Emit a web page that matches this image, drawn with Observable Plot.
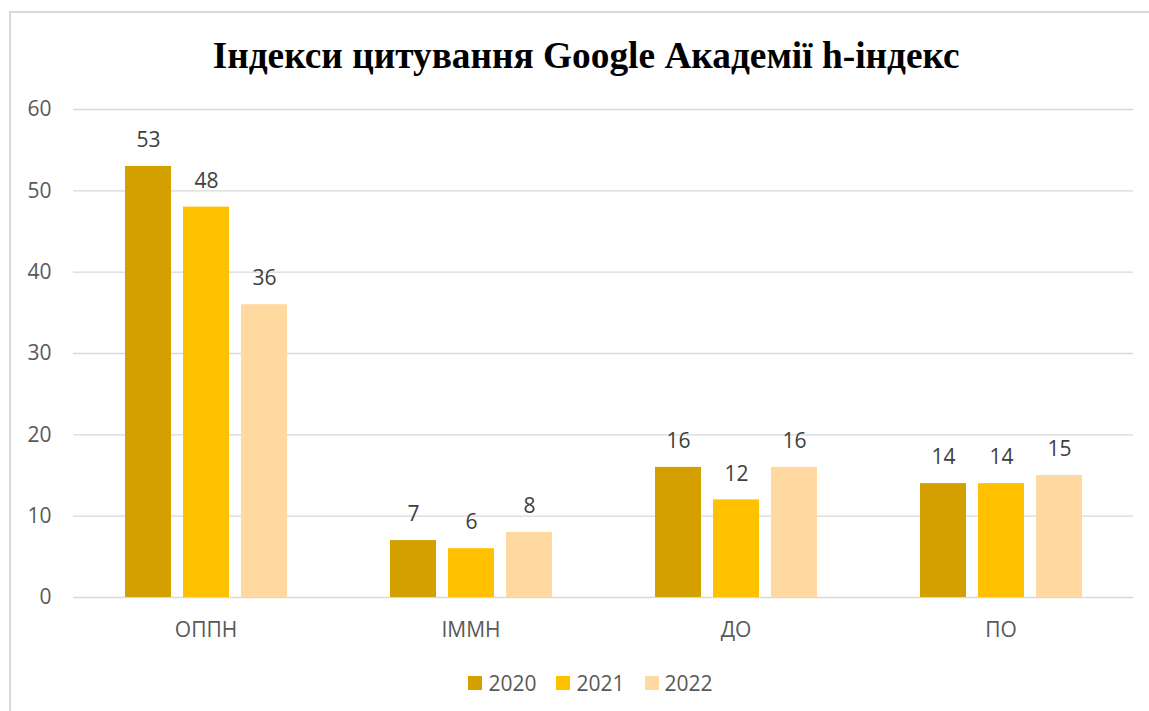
<!DOCTYPE html>
<html>
<head>
<meta charset="utf-8">
<script src="https://cdn.jsdelivr.net/npm/d3@7"></script>
<script src="https://cdn.jsdelivr.net/npm/@observablehq/plot@0.6"></script>
<style>
  html, body { margin: 0; padding: 0; background: #fff; width: 1149px; height: 711px; overflow: hidden; position: relative; }
  #frame { position: absolute; left: 9px; top: 11px; width: 1300px; height: 900px; border: 2px solid #d9d9d9; box-sizing: border-box; }
  #title { position: absolute; left: 12px; width: 1149px; top: 33px; text-align: center; font-family: "Liberation Serif", "Times New Roman", serif; font-weight: bold; font-size: 38px; color: #000; line-height: 44px; white-space: nowrap; }
  #title span { display: inline-block; transform-origin: center; }
  #chart { position: absolute; left: 0; top: 90px; }
  #legend { position: absolute; left: 16px; width: 1149px; top: 671px; display: flex; justify-content: center; gap: 20px; font-family: "Open Sans", "Liberation Sans", sans-serif; font-size: 21px; color: #595959; }
  .item { display: flex; align-items: center; gap: 6px; line-height: 24px; }
  .sw { width: 14px; height: 14px; display: inline-block; }
</style>
</head>
<body>
<div id="frame"></div>
<div id="title"><span>Індекси цитування Google Академії h-індекс</span></div>
<div id="chart"></div>
<div id="legend"></div>
<script>
const categories = ["ОППН", "ІММН", "ДО", "ПО"];
const years = ["2020", "2021", "2022"];
const values2020 = [53, 7, 16, 14];
const values2021 = [48, 6, 12, 14];
const values2022 = [36, 8, 16, 15];
const colors = ["#D4A000", "#FFC000", "#FFD9A0"];
const yTicks = [0, 10, 20, 30, 40, 50, 60];

const series = [values2020, values2021, values2022];
const data = [];
categories.forEach((c, i) => {
  years.forEach((y, j) => data.push({category: c, year: y, value: series[j][i]}));
});

const font = '"Open Sans", "Liberation Sans", sans-serif';
const chart = Plot.plot({
  width: 1149,
  height: 557,
  marginLeft: 73,
  marginRight: 16,
  marginTop: 19,
  marginBottom: 50,
  style: {fontFamily: font, fontSize: "21px", color: "#595959", background: "transparent"},
  fx: {domain: categories, padding: 0, label: null, axis: null},
  x: {domain: years, paddingInner: 0.214, paddingOuter: 0.87, axis: null},
  y: {domain: [0, 60], ticks: yTicks, label: null},
  color: {domain: years, range: colors},
  marks: [
    Plot.ruleY(yTicks, {stroke: "#d9d9d9", strokeWidth: 1.3}),
    Plot.axisY({ticks: yTicks, tickSize: 0, tickPadding: 22, label: null, fill: "#595959", fontSize: 21}),
    Plot.axisFx({anchor: "bottom", tickSize: 0, tickPadding: 25, label: null, fill: "#595959", fontSize: 21}),
    Plot.barY(data, {fx: "category", x: "year", y: "value", fill: "year"}),
    Plot.text(data, {fx: "category", x: "year", y: "value", text: d => String(d.value), dy: -26, fill: "#404040", fontSize: 21})
  ]
});
document.getElementById("chart").appendChild(chart);

const legend = document.getElementById("legend");
years.forEach((y, i) => {
  const it = document.createElement("div");
  it.className = "item";
  it.innerHTML = `<span class="sw" style="background:${colors[i]}"></span><span>${y}</span>`;
  legend.appendChild(it);
});

// fit title width to the reference (~747px)
const span = document.querySelector("#title span");
const w = span.getBoundingClientRect().width;
span.style.transform = `scaleX(${747 / w})`;
</script>
</body>
</html>
